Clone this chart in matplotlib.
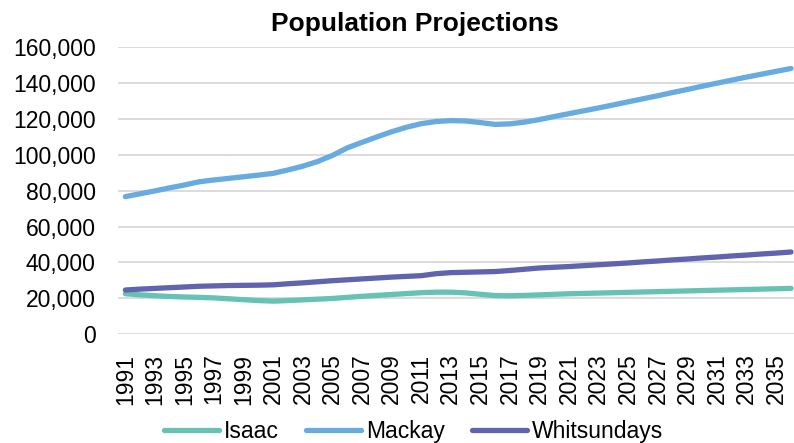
import numpy as np
import matplotlib
matplotlib.use('Agg')
from matplotlib import pyplot as plt
from matplotlib.ticker import FuncFormatter

plt.rcParams['font.family'] = ['Liberation Sans', 'DejaVu Sans']

# data
years = list(range(1991, 2037))
isaac = [22500, 21900, 21400, 21000, 20700, 20500, 20200, 19700, 19200, 18700,
         18400, 18700, 19100, 19500, 19900, 20500, 21100, 21600, 22100, 22600,
         23100, 23400, 23400, 23000, 22200, 21500, 21400, 21600, 21900, 22200,
         22500, 22700, 22900, 23100, 23300, 23500, 23700, 23900, 24100, 24300,
         24500, 24700, 24900, 25100, 25300, 25500]
mackay = [76700, 78300, 79900, 81600, 83200, 85000, 86000, 86900, 87800, 88700,
          89700, 91600, 93700, 96300, 99700, 103900, 107000, 110000, 112900, 115400,
          117400, 118600, 119100, 118900, 118000, 117000, 117300, 118300, 119700, 121400,
          123000, 124600, 126200, 127900, 129600, 131300, 133000, 134800, 136500, 138300,
          140000, 141700, 143400, 145000, 146600, 148200]
whitsundays = [24600, 25100, 25500, 25900, 26300, 26700, 26900, 27100, 27200, 27300,
               27500, 28100, 28600, 29200, 29800, 30300, 30800, 31300, 31800, 32200,
               32600, 33700, 34300, 34500, 34700, 34900, 35500, 36200, 36900, 37300,
               37700, 38200, 38700, 39200, 39700, 40300, 40800, 41400, 41900, 42500,
               43000, 43600, 44100, 44700, 45200, 45800]
series_names = ['Isaac', 'Mackay', 'Whitsundays']
colors = ['#66C2B4', '#67ABE0', '#5F64AF']

fig = plt.figure(figsize=(7.94, 4.43), dpi=100)
ax = fig.add_axes([0.1486, 0.2458, 0.8514, 0.6474])

for vals, name, c in zip([isaac, mackay, whitsundays], series_names, colors):
    ax.plot(years, vals, color=c, lw=3.8, label=name, solid_capstyle='round')

ax.set_xlim(1990.5, 2036.2)
ax.set_ylim(0, 160000)
ax.set_yticks(np.arange(0, 160001, 20000))
ax.yaxis.set_major_formatter(FuncFormatter(lambda v, p: '{:,.0f}'.format(v)))
ax.set_xticks(years[::2])
ax.set_xticklabels([str(y) for y in years[::2]], rotation=90)
ax.grid(axis='y', color='#D9D9D9', lw=1.3)
ax.set_axisbelow(True)
for s in ax.spines.values():
    s.set_visible(False)
ax.tick_params(axis='both', length=0, labelsize=16.5, colors='black')
ax.tick_params(axis='y', pad=16)
ax.tick_params(axis='x', pad=14)

fig.suptitle('Population Projections', fontsize=19, fontweight='bold',
             x=0.5227, y=0.931, va='baseline')

fig.legend(loc='center', bbox_to_anchor=(0.521, 0.027), ncol=3, frameon=False,
           fontsize=16.5, handlelength=2.4, handletextpad=0.2, columnspacing=1.2,
           borderpad=0, borderaxespad=0)

fig.savefig('out.png', dpi=100)
